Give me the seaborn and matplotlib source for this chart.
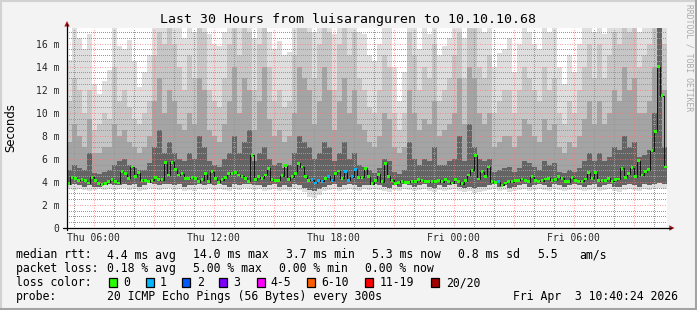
import numpy as np
import pandas as pd
import matplotlib
matplotlib.use("Agg")
import matplotlib.pyplot as plt
import seaborn as sns
from matplotlib.lines import Line2D
from matplotlib.patches import Polygon, Rectangle

# ---------------- data ----------------
title = "Last 30 Hours from luisaranguren to 10.10.10.68"

# median RTT (ms), one value every 10 minutes, starting Thu 04:40
median_ms = [
    3.85, 4.4, 4.3, 4.15, 4.2, 4.1, 3.9, 4.4, 4.1, 3.85, 3.8, 3.85, 4.0, 4.2, 4.05, 3.9, 4.9, 4.7,
    4.3, 5.3, 4.5, 4.8, 4.15, 4.1, 4.0, 4.15, 4.35, 4.2, 4.2, 5.7, 4.6, 5.7, 5.1, 4.6, 4.7, 4.3,
    4.3, 4.35, 4.3, 4.0, 4.2, 4.7, 4.0, 4.9, 4.3, 3.95, 4.2, 4.4, 4.7, 4.75, 4.85, 4.6, 4.5, 4.3,
    4.05, 6.3, 4.2, 4.45, 4.3, 4.6, 5.2, 4.2, 4.1, 4.15, 4.55, 5.4, 4.2, 4.45, 4.75, 5.6, 5.3, 4.5,
    4.15, 4.2, 3.9, 4.15, 4.05, 4.3, 4.5, 4.15, 4.7, 4.95, 4.3, 4.9, 4.15, 4.45, 5.1, 4.4, 4.4, 5.2,
    4.45, 3.85, 4.1, 4.65, 4.0, 5.6, 4.5, 4.15, 3.85, 3.95, 4.05, 3.95, 3.95, 4.05, 4.0, 4.2, 4.1, 4.0,
    4.0, 4.0, 4.05, 4.15, 4.0, 4.2, 4.0, 3.9, 4.2, 4.0, 3.85, 4.1, 4.6, 5.0, 6.3, 4.25, 4.9, 4.5,
    5.3, 4.0, 3.95, 4.0, 3.7, 3.9, 4.05, 4.0, 4.1, 4.15, 4.25, 4.1, 4.0, 4.45, 4.15, 4.05, 4.1, 4.25,
    4.3, 4.15, 4.2, 4.45, 4.3, 4.0, 4.0, 4.35, 4.15, 4.05, 4.05, 4.25, 4.8, 4.3, 4.85, 4.1, 4.1, 4.15,
    4.3, 4.05, 4.2, 4.25, 5.2, 4.4, 4.7, 5.25, 4.45, 5.85, 4.6, 4.9, 5.05, 6.7, 8.4, 14.0, 11.5, 5.3,
]

# lost pings (of 20) per 10-minute step
loss_count = [
    0, 0, 0, 0, 0, 0, 0, 0, 0, 0, 0, 0, 0, 0, 0, 0, 0, 0, 0, 0, 0, 0, 0, 0, 0, 0, 0, 0, 0, 0, 0, 0, 0, 0, 0, 0,
    0, 0, 0, 0, 0, 0, 0, 0, 0, 0, 0, 0, 0, 0, 0, 0, 0, 0, 0, 0, 0, 0, 0, 0, 0, 0, 0, 0, 0, 0, 0, 0, 0, 0, 0, 0,
    0, 1, 1, 1, 1, 0, 1, 1, 0, 0, 0, 1, 1, 1, 1, 0, 0, 0, 0, 0, 0, 0, 0, 0, 0, 0, 0, 0, 0, 0, 0, 0, 0, 0, 0, 0,
    0, 0, 0, 0, 0, 0, 0, 0, 0, 0, 0, 0, 0, 0, 0, 0, 0, 0, 0, 0, 0, 1, 0, 0, 0, 0, 0, 0, 0, 0, 0, 0, 0, 0, 0, 0,
    0, 0, 0, 0, 0, 0, 0, 0, 0, 0, 0, 0, 0, 0, 0, 0, 0, 0, 0, 0, 0, 0, 0, 0, 0, 0, 0, 0, 0, 0, 0, 0, 0, 0, 0, 0,
]

# smoke (ping distribution) per 15-minute step, ms
smoke_max = [
    14.6, 18, 16.5, 15.5, 16.8, 12.5, 11.6, 12.8, 13.7, 18,
    15.8, 15.5, 16.3, 14.5, 12.2, 13.5, 15, 18, 18, 18,
    18, 18, 18, 16.5, 18, 17, 18, 18, 16.8, 16,
    15.8, 17, 18, 18, 18, 18, 18, 16.5, 18, 18,
    17, 15.5, 16.2, 15, 15.3, 18, 18, 18, 18, 17,
    18, 18, 18, 16.8, 18, 18, 18, 18, 17, 16.8,
    15, 14.5, 16, 18, 18, 14, 11, 13.5, 18, 18,
    15.5, 18, 16.8, 18, 15, 15.8, 16.5, 18, 18, 16.5,
    18, 18, 18, 17, 18, 14, 15.2, 15.5, 16.5, 13.5,
    16, 18, 17, 16, 15.5, 18, 17, 18, 14, 12.5,
    15, 13.5, 16, 18, 18, 17, 18, 16.8, 18, 18,
    18, 18, 18, 18, 17, 18, 18, 18, 18, 18,
]
smoke_hi1 = [
    11, 13, 12, 10, 12, 8.5, 9, 10, 9.5, 14,
    11, 12, 10.5, 9.5, 9, 10, 11, 15, 17, 16,
    18, 16, 14, 12, 15, 13, 18, 17, 12, 11,
    10.5, 13, 16, 18, 15, 18, 17, 12, 16, 18,
    14, 11, 12, 10.5, 11, 15, 18, 18, 17, 13,
    16, 18, 17, 12, 16, 18, 15, 17, 13, 12,
    10.5, 10, 12, 15, 14, 10, 8.5, 10, 17, 15,
    12, 14, 13, 16, 11, 12, 13, 15, 17, 13,
    18, 18, 14, 13, 15, 10, 11, 12, 12, 10,
    12, 14, 13, 12, 11, 14, 12, 13, 10, 9,
    11, 10, 12, 14, 16, 13, 16, 13, 15, 17,
    16, 18, 17, 18, 14, 15, 16, 18, 18, 16,
]
smoke_hi2 = [
    7.5, 9, 8, 7, 9.5, 6.5, 6.5, 7, 7, 9,
    8, 8.5, 7.5, 7, 6.5, 7, 8, 11, 13, 10,
    12, 11, 9, 8.5, 10, 9, 13, 12, 8.5, 8,
    7.5, 9, 11, 14, 10, 13, 12, 8.5, 11, 14,
    9.5, 8, 8.5, 7.5, 8, 10, 14, 13, 12, 9,
    11, 14, 12, 8.5, 11, 13, 10, 12, 9, 8.5,
    7.5, 7, 8, 10, 9.5, 7, 6.5, 7, 12, 10,
    8.5, 9.5, 9, 11, 8, 8.5, 9, 10, 13, 9,
    14, 13, 10, 9, 10, 7, 7.5, 8, 8, 7,
    8, 9.5, 9, 8, 7.5, 9.5, 8.5, 9, 7, 6.5,
    7.5, 7, 8, 9.5, 11, 9, 11, 9, 10, 12,
    11, 14, 12, 13, 10, 10, 11, 14, 18, 12,
]
smoke_hi3 = [
    5.0, 5.5, 5.2, 5.0, 6.5, 4.8, 4.7, 4.9, 5.0, 5.5,
    5.8, 6.0, 5.5, 5.2, 5.0, 5.0, 5.6, 7.0, 8.5, 6.5,
    7.5, 6.5, 6.0, 5.8, 6.5, 6.0, 8.0, 7.0, 5.8, 5.5,
    5.3, 6.0, 6.5, 8.0, 6.5, 7.5, 8.5, 5.8, 6.5, 7.0,
    6.0, 5.5, 5.6, 5.2, 5.5, 6.5, 8.0, 7.5, 7.0, 6.0,
    6.5, 7.5, 7.0, 5.8, 6.5, 7.5, 6.0, 6.5, 5.5, 5.3,
    5.0, 4.8, 5.2, 6.0, 5.8, 4.9, 4.7, 5.0, 7.5, 6.0,
    5.5, 6.0, 5.8, 7.0, 5.5, 5.5, 5.8, 6.0, 8.0, 5.8,
    9.0, 7.0, 6.0, 5.8, 6.0, 4.9, 5.0, 5.2, 5.3, 4.9,
    5.2, 5.8, 5.6, 5.3, 5.0, 5.8, 5.5, 5.6, 4.9, 4.8,
    5.0, 4.9, 5.2, 5.8, 6.5, 5.8, 6.5, 5.8, 6.2, 7.0,
    6.8, 8.0, 7.0, 7.5, 6.2, 6.3, 6.8, 10.0, 18.0, 7.0,
]
smoke_min = [
    3.4, 3.3, 3.4, 3.3, 3.2, 3.3, 3.4, 3.3, 3.4, 3.3,
    3.4, 3.5, 3.3, 3.4, 3.2, 3.3, 3.5, 3.4, 3.3, 3.4,
    3.5, 3.3, 3.4, 3.2, 3.3, 3.2, 3.4, 3.3, 3.5, 3.3,
    3.4, 3.3, 3.2, 3.4, 3.3, 3.5, 3.4, 3.3, 3.4, 3.2,
    3.3, 3.4, 3.2, 3.3, 3.2, 3.4, 3.3, 3.1, 2.7, 2.6,
    2.9, 3.2, 3.3, 3.4, 3.2, 3.3, 3.4, 3.3, 3.2, 3.4,
    3.3, 3.4, 3.3, 3.2, 3.1, 3.3, 3.2, 3.4, 3.3, 3.2,
    3.3, 3.4, 3.2, 3.1, 3.3, 3.2, 3.3, 3.4, 3.2, 3.1,
    3.2, 3.0, 3.1, 3.2, 3.3, 3.4, 3.2, 3.3, 3.1, 3.2,
    3.3, 3.4, 3.2, 3.3, 3.4, 3.3, 3.2, 3.4, 3.3, 3.2,
    3.3, 3.4, 3.3, 3.2, 3.3, 3.4, 3.2, 3.3, 3.4, 3.2,
    3.1, 3.3, 3.4, 3.3, 3.2, 3.4, 3.3, 3.4, 3.5, 3.4,
]
smoke_lo1 = [
    3.7, 3.8, 3.7, 3.6, 3.7, 3.6, 3.6, 3.7, 3.8, 3.7,
    3.7, 3.8, 3.7, 3.8, 3.6, 3.7, 3.9, 3.8, 3.7, 3.8,
    3.8, 3.7, 3.8, 3.6, 3.7, 3.7, 3.8, 3.7, 3.8, 3.7,
    3.8, 3.7, 3.6, 3.8, 3.7, 3.8, 3.8, 3.7, 3.7, 3.6,
    3.7, 3.8, 3.6, 3.7, 3.6, 3.8, 3.7, 3.5, 3.3, 3.2,
    3.4, 3.6, 3.7, 3.8, 3.6, 3.7, 3.8, 3.7, 3.6, 3.7,
    3.7, 3.8, 3.7, 3.6, 3.5, 3.7, 3.6, 3.8, 3.7, 3.6,
    3.7, 3.8, 3.6, 3.5, 3.7, 3.6, 3.7, 3.8, 3.6, 3.5,
    3.6, 3.5, 3.6, 3.6, 3.7, 3.8, 3.6, 3.7, 3.5, 3.6,
    3.7, 3.8, 3.6, 3.7, 3.8, 3.7, 3.6, 3.8, 3.7, 3.6,
    3.7, 3.8, 3.7, 3.6, 3.7, 3.8, 3.6, 3.7, 3.8, 3.6,
    3.6, 3.7, 3.8, 3.7, 3.6, 3.8, 3.7, 3.8, 3.9, 3.8,
]

x_tick_hours = [6, 9, 12, 15, 18, 21, 24, 27, 30, 33]
x_tick_labels = ["Thu 06:00", "", "Thu 12:00", "", "Thu 18:00", "", "Fri 00:00", "", "Fri 06:00", ""]
y_ticks = [0, 2, 4, 6, 8, 10, 12, 14, 16]
y_tick_labels = ["0", "2 m", "4 m", "6 m", "8 m", "10 m", "12 m", "14 m", "16 m"]

loss_labels = ["0", "1", "2", "3", "4-5", "6-10", "11-19", "20/20"]
loss_colors = ["#26ff00", "#00b8ff", "#0059ff", "#7e00ff", "#ff00ff", "#ff5e00", "#ff0000", "#a10000"]

legend_rtt = [("median rtt:", 16), ("4.4 ms avg", 107), ("14.0 ms max", 192.7), ("3.7 ms min", 286),
              ("5.3 ms now", 372.3), ("0.8 ms sd", 458.3), ("5.5", 537.3), ("am/s", 579.3)]
legend_loss = [("packet loss:", 16), ("0.18 % avg", 107), ("5.00 % max", 192.7),
               ("0.00 % min", 279.3), ("0.00 % now", 365)]
legend_probe = [("probe:", 16), ("20 ICMP Echo Pings (56 Bytes) every 300s", 107),
                ("Fri Apr  3 10:40:24 2026", 513.3)]
loss_box_x = [109, 146, 182.3, 219.3, 257, 307.3, 365.3, 431]
loss_lab_x = [123.3, 160, 196.7, 233.3, 270.7, 321.7, 380, 445.7]

# ---------------- figure ----------------
sns.set_theme(style="white")
plt.rcParams['font.family'] = ['DejaVu Sans Mono', 'DejaVu Sans']

W, H = 697, 310
fig = plt.figure(figsize=(W / 100, H / 100), dpi=100)
fig.patch.set_facecolor('#f3f3f3')


def fx(x):
    return x / W


def fy(y):
    return 1 - y / H


ax = fig.add_axes([fx(67), fy(228), 600 / W, 200 / H])
ax.set_facecolor('white')

start = 4 + 40 / 60.0
med_step = 1 / 6.0
smoke_step = 0.25
t_med = start + (np.arange(len(median_ms)) + 0.5) * med_step
t_edges = start + np.arange(len(smoke_max) + 1) * smoke_step


def ext(a):
    a = np.asarray(a, dtype=float)
    return np.append(a, a[-1])


ax.fill_between(t_edges, ext(smoke_min), ext(smoke_max), step='post', color='#dedede', lw=0, zorder=1)
ax.fill_between(t_edges, ext(smoke_lo1), ext(smoke_hi1), step='post', color='#c6c6c6', lw=0, zorder=1.1)
ax.fill_between(t_edges, ext(smoke_lo1), ext(smoke_hi2), step='post', color='#a4a4a4', lw=0, zorder=1.2)
ax.fill_between(t_edges, ext(smoke_lo1), ext(smoke_hi3), step='post', color='#646464', lw=0, zorder=1.3)


def loss_bin(n):
    if n <= 3:
        return loss_labels[n]
    if n <= 5:
        return "4-5"
    if n <= 10:
        return "6-10"
    if n <= 19:
        return "11-19"
    return "20/20"


df = pd.DataFrame({"time": t_med, "rtt": median_ms,
                   "loss": [loss_bin(n) for n in loss_count]})
palette = dict(zip(loss_labels, loss_colors))

sns.lineplot(data=df, x="time", y="rtt", estimator=None, color="#111111", lw=0.7,
             drawstyle="steps-mid", ax=ax, zorder=3)
sns.scatterplot(data=df, x="time", y="rtt", hue="loss", palette=palette, marker="s",
                s=4.2, linewidth=0, legend=False, ax=ax, zorder=4)

ax.set_xlabel("")
ax.set_ylabel("")
ax.set_xlim(start, start + 30)
ax.set_ylim(0, 200 / 11.52)

ax.set_xticks(x_tick_hours)
ax.set_xticklabels(x_tick_labels)
ax.set_xticks(np.arange(5, 35, 1.0), minor=True)
ax.set_yticks(y_ticks)
ax.set_yticklabels(y_tick_labels)
ax.set_yticks(np.arange(0, 17.5, 0.5), minor=True)

ax.set_axisbelow(False)
ax.grid(True, which="major", color=(1.0, 0.45, 0.45, 0.55), ls=(0, (1, 2)), lw=0.6)
ax.grid(True, which="minor", color=(0.6, 0.6, 0.6, 0.42), ls=(0, (1, 2)), lw=0.72,
        antialiased=False)

ax.tick_params(axis="both", which="major", labelsize=7, length=2.2, width=0.7,
               color="#555555", direction="out")
ax.tick_params(axis="both", which="minor", length=1.4, width=0.6, color="#888888",
               direction="out")
ax.tick_params(axis="y", which="major", pad=3.2)
ax.tick_params(axis="x", which="major", pad=1.6)
for sp in ax.spines.values():
    sp.set_visible(False)

# axes lines with arrows
fig.add_artist(Line2D([fx(67), fx(67)], [fy(230), fy(24)], color="#000000", lw=0.9))
fig.add_artist(Line2D([fx(63), fx(671)], [fy(228), fy(228)], color="#000000", lw=0.9))
fig.add_artist(Polygon([[fx(64.3), fy(26.5)], [fx(69.7), fy(26.5)], [fx(67), fy(21)]],
                       closed=True, color="#a01818", lw=0))
fig.add_artist(Polygon([[fx(669.3), fy(225.3)], [fx(669.3), fy(230.7)], [fx(674.5), fy(228)]],
                       closed=True, color="#a01818", lw=0))

# texts
fig.text(fx(347.5), fy(23.5), title, ha="center", va="baseline", fontsize=9.5, color="#000000")
fig.text(fx(10.5), fy(127.5), "Seconds", rotation=90, ha="center", va="center",
         fontsize=8.4, family="DejaVu Sans", color="#000000")
fig.text(fx(688.5), fy(58), "RRDTOOL / TOBI OETIKER", rotation=270, ha="center", va="center",
         fontsize=5.8, color="#aaaaaa")

fs = 8.3
for txt, x in legend_rtt:
    fig.text(fx(x), fy(258.5), txt, ha="left", va="baseline", fontsize=fs, color="#000000")
for txt, x in legend_loss:
    fig.text(fx(x), fy(272.3), txt, ha="left", va="baseline", fontsize=fs, color="#000000")
fig.text(fx(16), fy(286.2), "loss color:", ha="left", va="baseline", fontsize=fs, color="#000000")
for lab, col, bx, lx in zip(loss_labels, loss_colors, loss_box_x, loss_lab_x):
    fig.add_artist(Rectangle((fx(bx), fy(286.5)), 8 / W, 8.5 / H, facecolor=col,
                             edgecolor="#000000", lw=0.9))
    fig.text(fx(lx), fy(286.2), lab, ha="left", va="baseline", fontsize=fs, color="#000000")
for txt, x in legend_probe:
    fig.text(fx(x), fy(300.2), txt, ha="left", va="baseline", fontsize=fs, color="#000000")

# frame
fig.add_artist(Line2D([0, 1], [fy(0.8), fy(0.8)], color="#d2d2d2", lw=1.5))
fig.add_artist(Line2D([fx(0.8), fx(0.8)], [0, 1], color="#d2d2d2", lw=1.5))
fig.add_artist(Line2D([0, 1], [fy(308.8), fy(308.8)], color="#a3a3a3", lw=2.2))
fig.add_artist(Line2D([fx(695.8), fx(695.8)], [0, 1], color="#a3a3a3", lw=2.2))

fig.savefig("out.png", dpi=100, facecolor=fig.get_facecolor())
